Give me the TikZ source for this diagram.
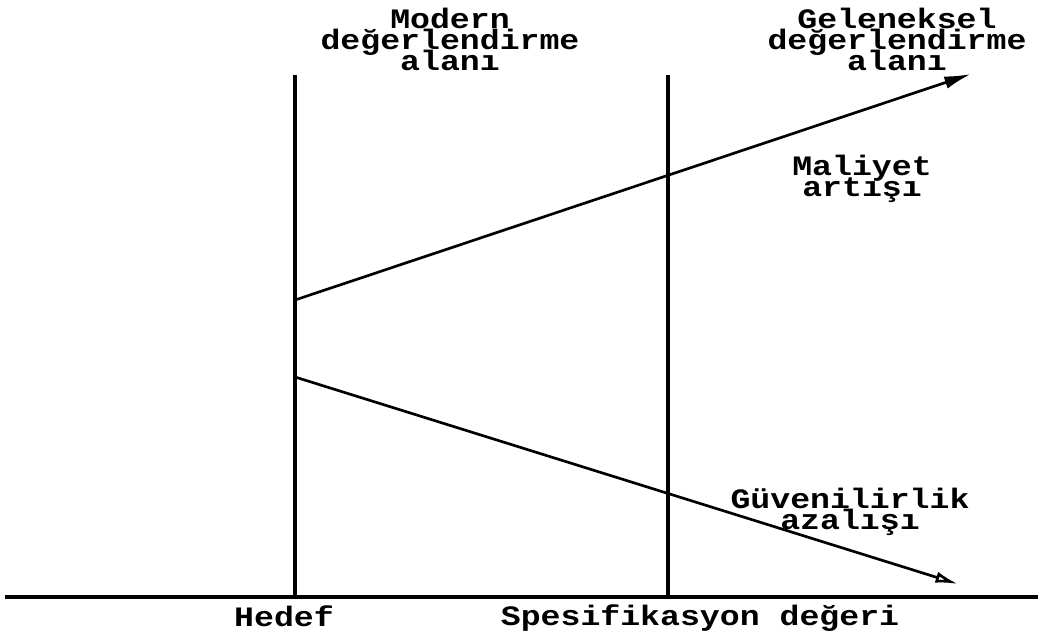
\documentclass[tikz,border=0pt]{standalone}
\usepackage{fontspec}
\newfontfamily\labelfont[FakeStretch=1.18]{Liberation Mono}
\newcommand\lblfont{\labelfont\bfseries\fontsize{20}{14.9}\selectfont\lineskiplimit=-100pt\relax\lineskip=0pt\relax}
\usetikzlibrary{arrows.meta}
\tikzset{
    lbl/.style={font=\lblfont, align=center, inner sep=0pt},
    limit/.style={line width=3.3pt},
    trend/.style={line width=1.9pt}
}
\begin{document}
\begin{tikzpicture}[x=0.025cm, y=-0.025cm]
    \useasboundingbox (0,0) rectangle (1038,638);
    % Axis and the two limit lines
    \coordinate (axL) at (5,597); \coordinate (axR) at (1038,597);
    \coordinate (hedefTop) at (295,75); \coordinate (hedef) at (295,597);
    \coordinate (spesTop) at (668,75); \coordinate (spes) at (668,597);
    \draw[line width=2.8pt] (axL) -- (axR);
    \draw[limit] (hedefTop) -- (hedef);
    \draw[limit] (spesTop) -- (spes);
    % Trends
    \coordinate (costA) at (295,300); \coordinate (costB) at (971,74);
    \coordinate (relA) at (295,377); \coordinate (relB) at (958,584);
    \draw[trend, -{Latex[length=19pt, width=9pt]}] (costA) -- (costB);
    \draw[trend, -{Latex[open, length=16pt, width=8pt]}] (relA) -- (relB);
    % Labels (base = last line)
    \node[lbl, anchor=base] (modern) at (450,70) {Modern\\değerlendirme\\alanı};
    \node[lbl, anchor=base] (geleneksel) at (897,70) {Geleneksel\\değerlendirme\\alanı};
    \node[lbl, anchor=base] (maliyet) at (862,196) {Maliyet\\artışı};
    \node[lbl, anchor=base] (guven) at (850,529) {Güvenilirlik\\azalışı};
    \node[lbl, anchor=base] (hedefLbl) at (284,626) {Hedef};
    \node[lbl, anchor=base] (spesLbl) at (700,625) {Spesifikasyon değeri};
\end{tikzpicture}
\end{document}
